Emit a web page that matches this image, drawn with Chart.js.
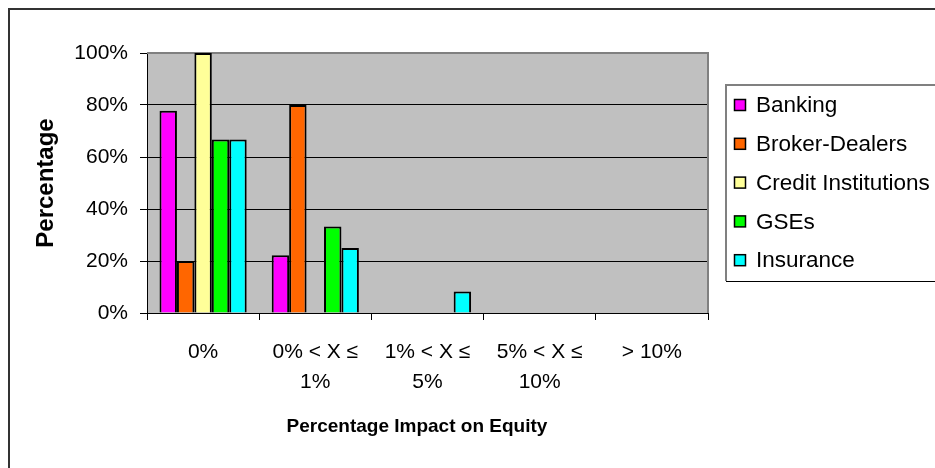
<!DOCTYPE html>
<html>
<head>
<meta charset="utf-8">
<script src="https://cdn.jsdelivr.net/npm/chart.js@4.4.1/dist/chart.umd.min.js"></script>
<style>
  html, body { margin: 0; padding: 0; background: #fff; }
  canvas { display: block; }
</style>
</head>
<body>
<canvas id="chart" width="935" height="468"></canvas>
<script>
// categories on the x axis
const categories = ['0%', ['0% < X \u2264', '1%'], ['1% < X \u2264', '5%'], ['5% < X \u2264', '10%'], '> 10%'];

// share of respondents per category (%)
const banking = [77.8, 22.2, 0, 0, 0];
const brokerDealers = [20, 80, 0, 0, 0];
const creditInstitutions = [100, 0, 0, 0, 0];
const gses = [66.7, 33.3, 0, 0, 0];
const insurance = [66.7, 25, 8.3, 0, 0];

const seriesNames = ['Banking', 'Broker-Dealers', 'Credit Institutions', 'GSEs', 'Insurance'];
const seriesColors = ['#FF00FF', '#FF6600', '#FFFF99', '#00FF00', '#00FFFF'];
const yTicks = [0, 20, 40, 60, 80, 100];

const FONT = "'Liberation Sans', Arial, sans-serif";
Chart.defaults.font.family = FONT;
Chart.defaults.color = '#000';

// gray plot background + frame, outer chart border
const frame = {
  id: 'frame',
  beforeDraw(chart) {
    const { ctx, chartArea: a } = chart;
    ctx.save();
    ctx.fillStyle = '#C0C0C0';
    ctx.fillRect(a.left, a.top, a.right - a.left, a.bottom - a.top);
    ctx.restore();
  },
  beforeDatasetsDraw(chart) {
    const { ctx, chartArea: a } = chart;
    ctx.save();
    ctx.strokeStyle = '#808080';
    ctx.lineWidth = 2;
    ctx.beginPath();
    ctx.moveTo(a.left, a.top);
    ctx.lineTo(a.right, a.top);
    ctx.lineTo(a.right, a.bottom);
    ctx.stroke();
    ctx.restore();
  },
  afterDraw(chart) {
    const { ctx } = chart;
    ctx.save();
    ctx.strokeStyle = '#333';
    ctx.lineWidth = 2;
    ctx.beginPath();
    ctx.moveTo(9, chart.height);
    ctx.lineTo(9, 9);
    ctx.lineTo(chart.width, 9);
    ctx.stroke();
    ctx.restore();
  }
};

// boxed legend on the right, like the original
const boxLegend = {
  id: 'boxLegend',
  afterDraw(chart) {
    const { ctx } = chart;
    const x = 726, top = 85, bottom = 281;
    ctx.save();
    ctx.fillStyle = '#fff';
    ctx.fillRect(x, top, chart.width - x, bottom - top);
    ctx.strokeStyle = '#808080';
    ctx.lineWidth = 2;
    ctx.beginPath();
    ctx.moveTo(x, bottom);
    ctx.lineTo(x, top);
    ctx.lineTo(chart.width, top);
    ctx.stroke();
    ctx.strokeStyle = '#000';
    ctx.lineWidth = 1;
    ctx.beginPath();
    ctx.moveTo(x, bottom + 0.5);
    ctx.lineTo(chart.width, bottom + 0.5);
    ctx.stroke();

    ctx.font = '22.5px ' + FONT;
    ctx.textBaseline = 'middle';
    ctx.textAlign = 'left';
    chart.data.datasets.forEach((ds, i) => {
      const cy = 105 + i * 38.8;
      ctx.fillStyle = ds.backgroundColor;
      ctx.fillRect(734.5, cy - 5.5, 11, 11);
      ctx.strokeStyle = '#000';
      ctx.lineWidth = 1.5;
      ctx.strokeRect(734.5, cy - 5.5, 11, 11);
      ctx.fillStyle = '#000';
      ctx.fillText(ds.label, 756, cy + 1);
    });
    ctx.restore();
  }
};

const seriesData = [banking, brokerDealers, creditInstitutions, gses, insurance];

new Chart(document.getElementById('chart'), {
  type: 'bar',
  data: {
    labels: categories,
    datasets: seriesNames.map((name, i) => ({
      label: name,
      data: seriesData[i],
      backgroundColor: seriesColors[i],
      borderColor: '#000',
      borderWidth: 2,
      barPercentage: 1,
      categoryPercentage: 0.777,
    })),
  },
  options: {
    responsive: false,
    animation: false,
    devicePixelRatio: 1,
    layout: { padding: { left: 28, top: 53, right: 227, bottom: 0 } },
    plugins: {
      legend: { display: false },
      tooltip: { enabled: false },
    },
    scales: {
      x: {
        afterFit(s) { s.height = 155; },
        grid: {
          offset: true,
          drawOnChartArea: false,
          drawTicks: true,
          tickLength: 7,
          color: '#000',
        },
        border: { color: '#000', width: 1 },
        ticks: {
          font: { size: 21, lineHeight: 1.45 },
          padding: 17,
          maxRotation: 0,
          autoSkip: false,
        },
        title: {
          display: true,
          // trailing spaces nudge the centred title left, as in the original
          text: 'Percentage Impact on Equity\u00a0\u00a0\u00a0\u00a0',
          font: { size: 19, weight: 'bold' },
          padding: { top: 0, bottom: 30 },
        },
      },
      y: {
        min: 0,
        max: 100,
        afterFit(s) { s.width = 119; },
        afterBuildTicks(s) { s.ticks = yTicks.map(v => ({ value: v })); },
        grid: {
          color: '#000',
          lineWidth: 1,
          tickLength: 7,
        },
        border: { color: '#000', width: 1 },
        ticks: {
          font: { size: 21 },
          padding: 12,
          callback: v => v + '%',
        },
        title: {
          display: true,
          text: 'Percentage',
          font: { size: 24, weight: 'bold' },
          padding: { top: 4, bottom: 0 },
        },
      },
    },
  },
  plugins: [frame, boxLegend],
});
</script>
</body>
</html>
